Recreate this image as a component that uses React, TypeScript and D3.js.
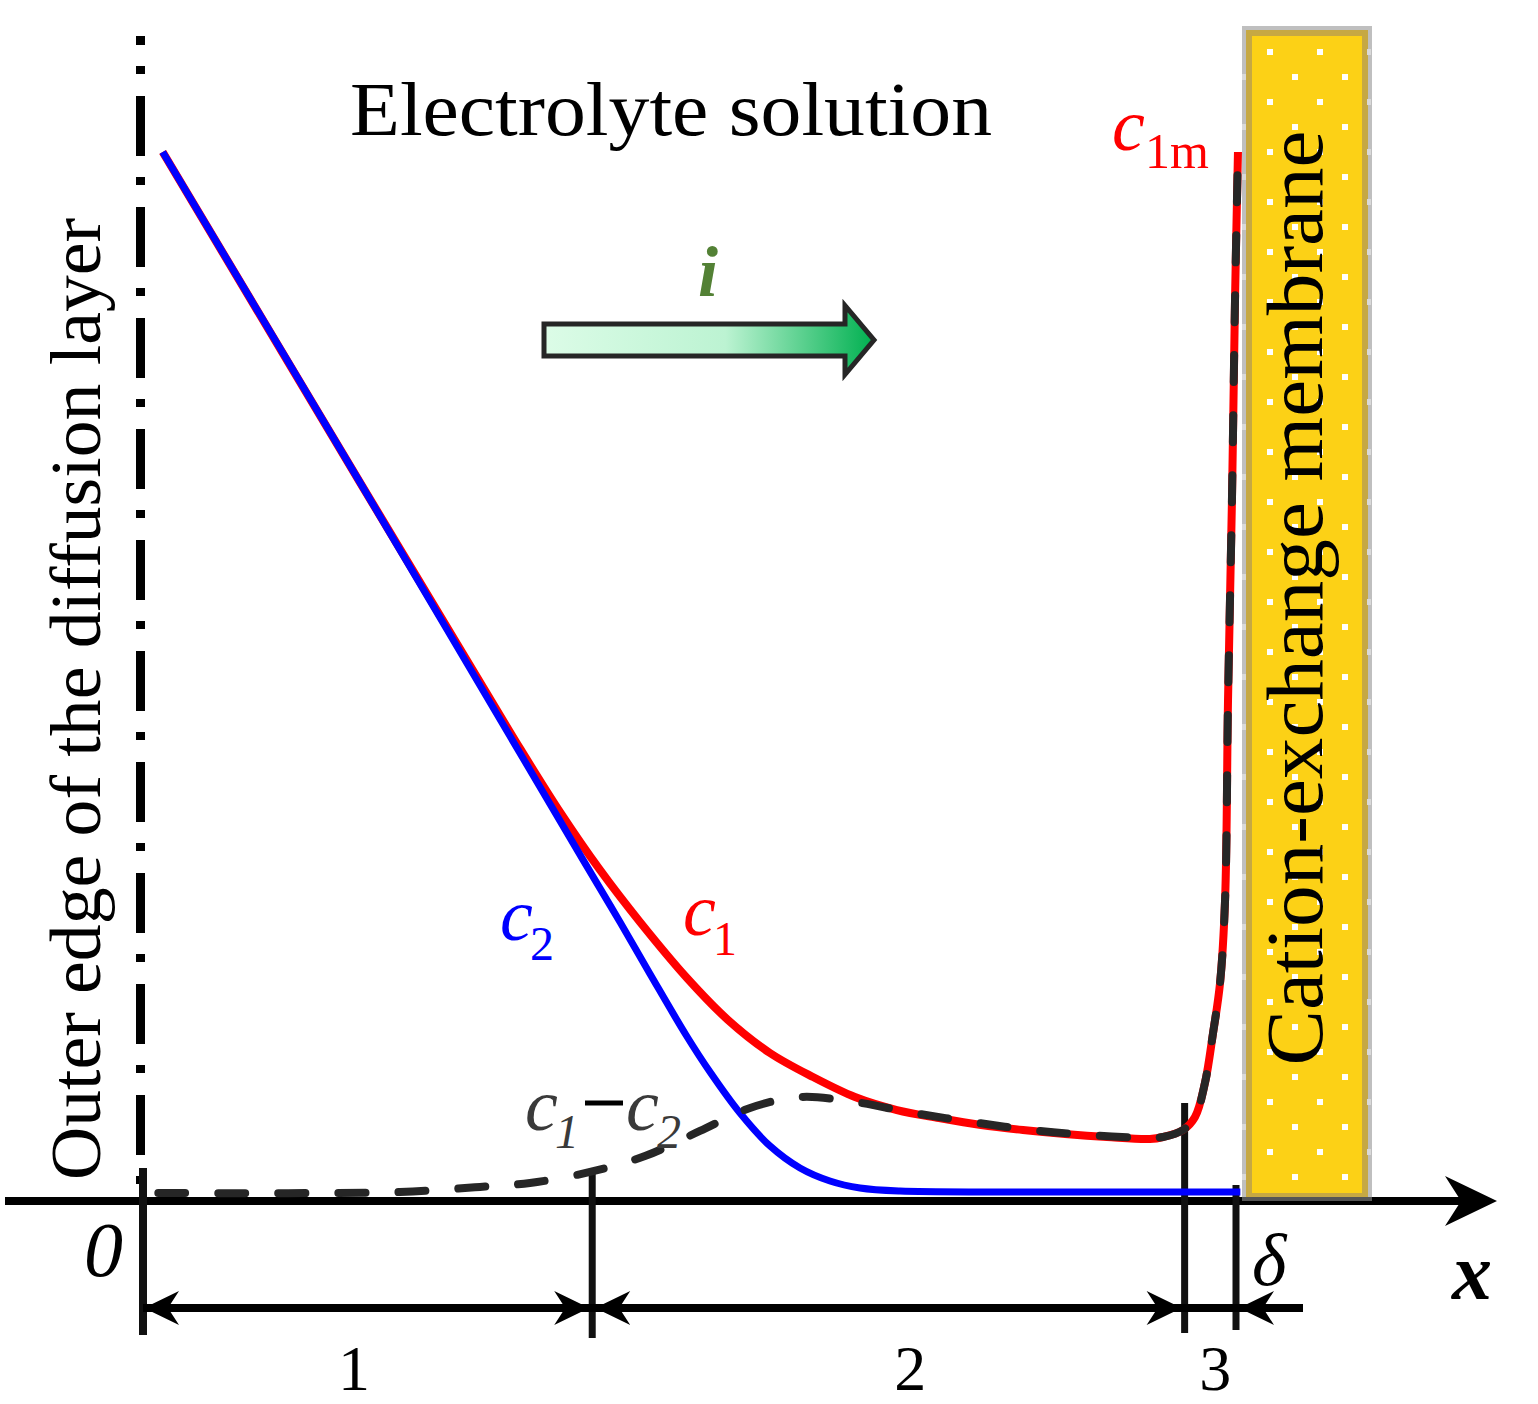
import React from 'react';
import * as d3 from 'd3';

// concentration profiles: x = % of distance to membrane surface, y = relative concentration
const c2Points: [number, number][] = [
  [1.8, 1.0], [20, 0.68], [40.26, 0.32], [43.64, 0.2603], [46.39, 0.2104], [49.68, 0.1518],
  [51.88, 0.1162], [54.62, 0.0768], [57.36, 0.0452], [60.11, 0.024], [62.85, 0.0115],
  [65.6, 0.0048], [69.26, 0.0019], [78.4, 0.001], [100.4, 0.001],
];
const c1Points: [number, number][] = [
  [1.8, 1.0], [20, 0.68], [30.83, 0.4909], [34.58, 0.4256], [38.15, 0.366], [41.81, 0.3103],
  [45.47, 0.2603], [49.77, 0.2065], [53.52, 0.1662], [57.36, 0.1345], [61.3, 0.1114],
  [65.14, 0.0922], [68.98, 0.0797], [72.83, 0.072], [76.67, 0.0653], [80.51, 0.0605],
  [84.36, 0.0567], [88.2, 0.0538], [92.13, 0.0519], [93.32, 0.0538], [95.15, 0.0605],
  [96.25, 0.073], [97.16, 0.1057], [97.9, 0.1537], [98.54, 0.2017], [99.0, 0.2815],
  [99.27, 0.4736], [99.63, 0.6657], [99.91, 0.8578], [100.18, 1.0],
];
const diffPoints: [number, number][] = [
  [1.4, 0], [23.5, 0.001], [30.83, 0.0058], [35.4, 0.0096], [40.9, 0.0202], [45.93, 0.0355],
  [50.96, 0.0596], [55.54, 0.0817], [60.11, 0.0922], [65.14, 0.0874], [70.54, 0.0768],
  [75.85, 0.0682], [81.24, 0.0605], [86.64, 0.0557], [92.13, 0.0528], [93.32, 0.0538],
  [95.15, 0.0605], [96.25, 0.073], [97.16, 0.1057], [97.9, 0.1537], [98.54, 0.2017],
  [99.0, 0.2815], [99.27, 0.4736], [99.63, 0.6657], [99.91, 0.8578], [100.18, 1.0],
];

// zone boundaries on the x axis and the labels under them
const zoneBounds = [0, 41.1, 95.3, 100];
const zoneLabels = ['1', '2', '3'];
const zoneLabelX = [19.3, 70.2, 98.1];

const W = 1538;
const H = 1404;
const FONT = '"Liberation Serif", "DejaVu Serif", serif';

const xScale = d3.scaleLinear().domain([0, 100]).range([143, 1236]);
const yScale = d3.scaleLinear().domain([0, 1]).range([1193, 152]);

const line = d3.line<[number, number]>()
  .x(d => xScale(d[0]))
  .y(d => yScale(d[1]))
  .curve(d3.curveCatmullRom.alpha(0.5));

// notched arrow head, dir = 1 points right, -1 points left
const head = (tip: number, y: number, dir: number, len = 35, half = 17, notch = 24) =>
  `M${tip},${y} L${tip - dir * len},${y - half} L${tip - dir * notch},${y} L${tip - dir * len},${y + half} Z`;

const App = () => {
  const axisY = 1201;
  const dimY = 1308;
  const tickTop = [1168, 1174, 1103, 1185];
  const tickBot = [1335, 1338, 1333, 1330];

  // membrane texture
  const memX0 = 1242, memX1 = 1372, memY0 = 26, memY1 = 1201;
  const dotRows = d3.range(0, 46).map(k => 52 + 25 * k).filter(y => y < memY1 - 6);

  return (
    <svg width={W} height={H} style={{ position: 'absolute', left: 0, top: 0, background: '#fff' }}
      fontFamily={FONT}>
      <defs>
        <linearGradient id="arrowGrad" x1="0" x2="1" y1="0" y2="0">
          <stop offset="0%" stopColor="#dcfce7" />
          <stop offset="55%" stopColor="#bcf3d2" />
          <stop offset="100%" stopColor="#00b050" />
        </linearGradient>
        <clipPath id="memClip">
          <rect x={memX0} y={memY0} width={memX1 - memX0} height={memY1 - memY0} />
        </clipPath>
      </defs>

      {/* x axis */}
      <line x1={5} x2={1465} y1={axisY} y2={axisY} stroke="#000" strokeWidth={8} />
      <path d={head(1497, axisY, 1, 52, 25, 36)} fill="#000" />

      {/* membrane */}
      <rect x={memX0 + 2} y={memY0 + 2} width={memX1 - memX0 - 4} height={memY1 - memY0 - 4}
        fill="#fcd116" stroke="#bfbfbf" strokeWidth={4} />
      <rect x={memX0 + 7} y={memY0 + 7} width={memX1 - memX0 - 14} height={memY1 - memY0 - 12}
        fill="none" stroke="#c6a843" strokeWidth={6} />
      <line x1={memX0} x2={memX1} y1={memY1 - 2} y2={memY1 - 2} stroke="#555" strokeWidth={4} />
      <g clipPath="url(#memClip)">
        {dotRows.map((y, i) => {
          const cols = i % 2 === 0 ? [1270, 1320, 1370] : [1245, 1295, 1345];
          return cols.map(x => {
            const onEdge = x < 1252 || x > 1362;
            return (
              <rect key={`${x}-${y}`} x={x - 3} y={y - 3} width={onEdge ? 4 : 6} height={6}
                fill={onEdge ? '#d9d9d9' : '#ffffff'} />
            );
          });
        })}
      </g>
      <text transform="translate(1322,598) rotate(-90)" textAnchor="middle" fontSize={80}
        textLength={935} lengthAdjust="spacingAndGlyphs" fill="#000">Cation-exchange membrane</text>

      {/* outer edge of the diffusion layer */}
      <line x1={140.5} x2={140.5} y1={36} y2={1197} stroke="#000" strokeWidth={9}
        strokeDasharray="60 21 8 22" strokeDashoffset={51} />
      <text transform="translate(100,699) rotate(-90)" textAnchor="middle" fontSize={72}
        textLength={962} lengthAdjust="spacingAndGlyphs" fill="#000">Outer edge of the diffusion layer</text>

      {/* zone ticks and dimension arrows */}
      {zoneBounds.map((b, i) => (
        <line key={`t${i}`} x1={xScale(b)} x2={xScale(b)} y1={tickTop[i]} y2={tickBot[i]}
          stroke="#111" strokeWidth={i === 0 ? 8 : 7} />
      ))}
      <line x1={xScale(zoneBounds[0])} x2={1303} y1={dimY} y2={dimY} stroke="#000" strokeWidth={8} />
      <path d={head(xScale(zoneBounds[0]) + 1, dimY, -1)} fill="#000" />
      <path d={head(xScale(zoneBounds[1]) - 3, dimY, 1)} fill="#000" />
      <path d={head(xScale(zoneBounds[1]) + 3, dimY, -1)} fill="#000" />
      <path d={head(xScale(zoneBounds[2]) - 3, dimY, 1)} fill="#000" />
      <path d={head(xScale(zoneBounds[3]) + 3, dimY, -1)} fill="#000" />
      {zoneLabels.map((l, i) => (
        <text key={`z${i}`} x={xScale(zoneLabelX[i])} y={1390} textAnchor="middle" fontSize={64}>{l}</text>
      ))}
      <text x={84} y={1276} fontSize={78} fontStyle="italic">0</text>
      <text x={1252} y={1285} fontSize={74} fontStyle="italic">δ</text>
      <text x={1452} y={1299} fontSize={80} fontStyle="italic" fontWeight="bold">x</text>

      {/* concentration curves */}
      <path d={line(c1Points) ?? ''} fill="none" stroke="#ff0000" strokeWidth={8} />
      <path d={line(c2Points) ?? ''} fill="none" stroke="#0000ff" strokeWidth={7} />
      <path d={line(diffPoints) ?? ''} fill="none" stroke="#262626" strokeWidth={8}
        strokeDasharray="27 33" strokeLinecap="round" />

      {/* curve labels */}
      <text x={1112} y={150} fontSize={74} fontStyle="italic" fill="#ff0000">c</text>
      <text x={1145} y={168} fontSize={50} fill="#ff0000">1m</text>
      <text x={500} y={940} fontSize={74} fontStyle="italic" fill="#0000ff">c</text>
      <text x={530} y={960} fontSize={48} fill="#0000ff">2</text>
      <text x={683} y={935} fontSize={74} fontStyle="italic" fill="#ff0000">c</text>
      <text x={713} y={955} fontSize={48} fill="#ff0000">1</text>
      <text x={525} y={1130} fontSize={74} fontStyle="italic" fill="#3a3a3a">c</text>
      <text x={555} y={1148} fontSize={48} fontStyle="italic" fill="#3a3a3a">1</text>
      <line x1={585} x2={623} y1={1103} y2={1103} stroke="#000" strokeWidth={5} />
      <text x={626} y={1130} fontSize={74} fontStyle="italic" fill="#3a3a3a">c</text>
      <text x={657} y={1148} fontSize={48} fontStyle="italic" fill="#3a3a3a">2</text>

      {/* title and current arrow */}
      <text x={350} y={135} fontSize={76} textLength={642} lengthAdjust="spacingAndGlyphs">Electrolyte solution</text>
      <text x={698} y={296} fontSize={72} fontStyle="italic" fontWeight="bold" fill="#538135">i</text>
      <path d="M544,324 L845,324 L845,305.5 L874,340 L845,374.5 L845,356 L544,356 Z"
        fill="url(#arrowGrad)" stroke="#262626" strokeWidth={5} strokeLinejoin="miter" />
    </svg>
  );
};

export default App;
